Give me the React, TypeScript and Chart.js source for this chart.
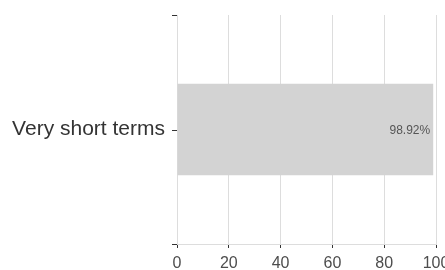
import React, { useEffect, useRef } from "react";
import { Chart, registerables } from "chart.js";

Chart.register(...registerables);

const categories: string[] = ["Very short terms"];
const values: number[] = [98.92];
const xTicks: number[] = [0, 20, 40, 60, 80, 100];

const FONT = "'Liberation Sans', Arial, sans-serif";

const extrasPlugin = {
  id: "extras",
  afterDatasetsDraw(chart: any) {
    const ctx = chart.ctx;
    const y = chart.scales.y;
    ctx.save();
    ctx.strokeStyle = "#333333";
    ctx.lineWidth = 1;
    const ys = [y.top, y.bottom, ...categories.map((_, i) => y.getPixelForValue(i))];
    ys.forEach((py: number) => {
      const p = Math.round(py) + 0.5;
      ctx.beginPath();
      ctx.moveTo(y.right - 5, p);
      ctx.lineTo(y.right, p);
      ctx.stroke();
    });
    const meta = chart.getDatasetMeta(0);
    ctx.fillStyle = "#555555";
    ctx.font = `12px ${FONT}`;
    ctx.textAlign = "right";
    ctx.textBaseline = "middle";
    meta.data.forEach((el: any, i: number) => {
      ctx.fillText(values[i].toFixed(2) + "%", el.x - 3, el.y + 1);
    });
    ctx.restore();
  },
};

export default function App() {
  const ref = useRef<HTMLCanvasElement | null>(null);
  useEffect(() => {
    if (!ref.current) return;
    const chart = new Chart(ref.current, {
      type: "bar",
      data: {
        labels: categories,
        datasets: [
          {
            data: values,
            backgroundColor: "#d3d3d3",
            borderWidth: 0,
            barPercentage: 0.4,
            categoryPercentage: 1,
          },
        ],
      },
      options: {
        indexAxis: "y",
        animation: false,
        responsive: false,
        maintainAspectRatio: false,
        layout: { padding: { top: 15, right: 9, left: 0, bottom: 0 } },
        plugins: { legend: { display: false }, tooltip: { enabled: false } },
        scales: {
          x: {
            min: 0,
            max: 100,
            afterBuildTicks: (s: any) => {
              s.ticks = xTicks.map((v) => ({ value: v }));
            },
            afterFit: (s: any) => {
              s.paddingRight = 0;
              s.paddingLeft = 0;
              s.height = 26;
            },
            grid: {
              color: "#dddddd",
              tickColor: "#333333",
              tickLength: 4,
              lineWidth: 1,
            },
            border: { display: true, color: "#dddddd" },
            ticks: {
              color: "#4d4d4d",
              font: { size: 16, family: FONT },
              padding: 6,
              maxRotation: 0,
              autoSkip: false,
            },
          },
          y: {
            afterFit: (s: any) => {
              s.width = 177;
              s.paddingTop = 0;
              s.paddingBottom = 0;
            },
            grid: { display: false },
            border: { display: true, color: "#dddddd" },
            ticks: {
              color: "#333333",
              font: { size: 21, family: FONT },
              padding: 4,
            },
          },
        },
      },
      plugins: [extrasPlugin],
    });
    return () => chart.destroy();
  }, []);
  return (
    <div style={{ position: "fixed", left: 0, top: 0, width: 445, height: 270 }}>
      <canvas ref={ref} width={445} height={270} />
    </div>
  );
}
